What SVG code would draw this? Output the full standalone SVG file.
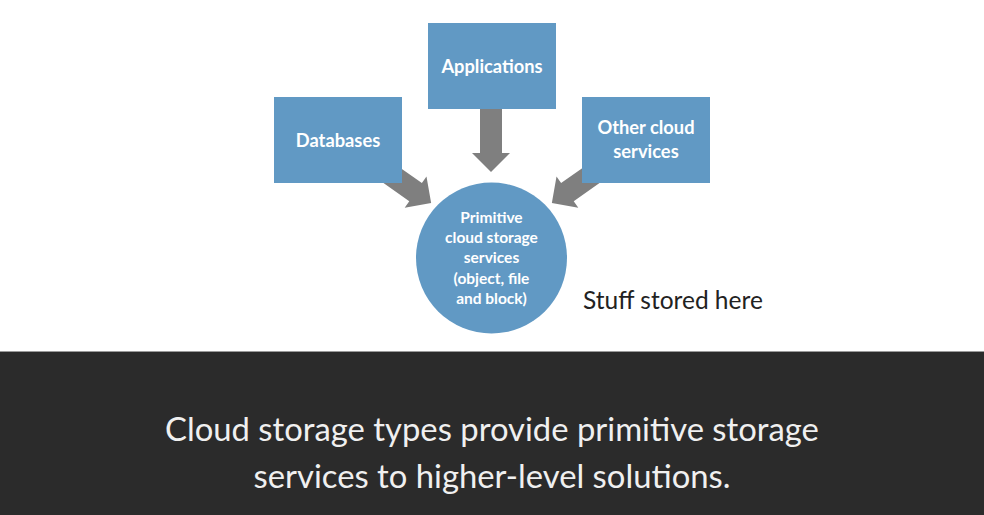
<svg xmlns="http://www.w3.org/2000/svg" width="984" height="515" viewBox="0 0 984 515">
<style>
.box{fill:#6199c4}
.arr{fill:#7f7f7f}
.lbl{font-family:Lato,"Open Sans",sans-serif;font-weight:bold;fill:#ffffff;text-anchor:middle}
.cap{font-family:Lato,"Open Sans",sans-serif;fill:#f0f0f0;text-anchor:middle;font-size:32.8px}
</style>
<rect x="0" y="0" width="984" height="351" fill="#ffffff"/>
<rect x="0" y="351" width="984" height="164" fill="#2b2b2b"/>
<line x1="0" y1="351.5" x2="984" y2="351.5" stroke="#9a9a9a" stroke-width="1"/>
<g id="connectors">
<polygon class="arr" transform="translate(491,109) rotate(90)" points="0,-11 44,-11 44,-19 63,0 44,19 44,11 0,11"/>
<polygon class="arr" transform="translate(382,168.6) rotate(35)" points="0,-11 41,-11 41,-19 60,0 41,19 41,11 0,11"/>
<polygon class="arr" transform="translate(601,168.6) rotate(145)" points="0,-11 41,-11 41,-19 60,0 41,19 41,11 0,11"/>
</g>
<g id="applications">
<rect class="box" x="428" y="23" width="128" height="86"/>
<text class="lbl" x="492" y="73" font-size="18.3">Applications</text>
</g>
<g id="databases">
<rect class="box" x="274" y="97" width="128" height="86"/>
<text class="lbl" x="338" y="147" font-size="18.3">Databases</text>
</g>
<g id="other-cloud-services">
<rect class="box" x="582" y="97" width="128" height="86"/>
<text class="lbl" x="646" y="134" font-size="18.3">Other cloud</text>
<text class="lbl" x="646" y="158" font-size="18.3">services</text>
</g>
<g id="primitive">
<circle class="box" cx="491.5" cy="258" r="75.5"/>
<text class="lbl" x="491.5" y="223" font-size="15.5">Primitive</text>
<text class="lbl" x="491.5" y="243" font-size="15.5">cloud storage</text>
<text class="lbl" x="491.5" y="263" font-size="15.5">services</text>
<text class="lbl" x="491.5" y="284" font-size="15.5">(object, file</text>
<text class="lbl" x="491.5" y="304" font-size="15.5">and block)</text>
</g>
<g id="note">
<text x="583" y="309" font-family="Lato,'Open Sans',sans-serif" font-size="24.5" fill="#222222">Stuff stored here</text>
</g>
<g id="caption">
<text class="cap" x="492" y="441">Cloud storage types provide primitive storage</text>
<text class="cap" x="492" y="488">services to higher-level solutions.</text>
</g>
</svg>
